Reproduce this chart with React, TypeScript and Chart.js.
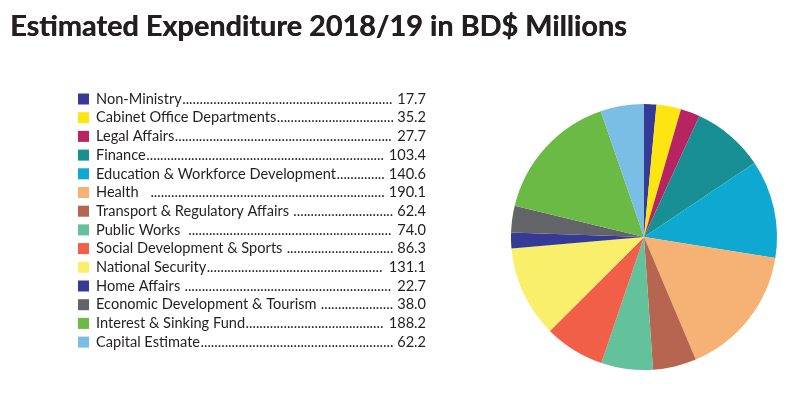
import React, { useEffect, useRef } from "react";
import { Chart, registerables } from "chart.js";

Chart.register(...registerables);

const TITLE = "Estimated Expenditure 2018/19 in BD$ Millions";
const categories = [
  "Non-Ministry",
  "Cabinet Office Departments",
  "Legal Affairs",
  "Finance",
  "Education & Workforce Development",
  "Health",
  "Transport & Regulatory Affairs",
  "Public Works",
  "Social Development & Sports",
  "National Security",
  "Home Affairs",
  "Economic Development & Tourism",
  "Interest & Sinking Fund",
  "Capital Estimate",
];
const values = [17.7, 35.2, 27.7, 103.4, 140.6, 190.1, 62.4, 74.0, 86.3, 131.1, 22.7, 38.0, 188.2, 62.2];
const valueLabels = ["17.7", "35.2", "27.7", "103.4", "140.6", "190.1", "62.4", "74.0", "86.3", "131.1", "22.7", "38.0", "188.2", "62.2"];
const colors = [
  "#353a96", "#fce511", "#b82462", "#189093", "#0fa8d0", "#f5b274", "#b66550",
  "#63c29c", "#f15f48", "#f9ef6b", "#343a96", "#636467", "#6aba45", "#7abde5",
];
// label separators before the dotted leader, as typed in the original
const leaderGaps = ["", "", "", "", "", "   ", " ", "  ", " ", "", " ", " ", "", ""];

const textPlugin = {
  id: "customText",
  afterDraw(chart: any) {
    const ctx = chart.ctx as CanvasRenderingContext2D;
    ctx.save();
    // Title
    ctx.fillStyle = "#231f20";
    ctx.textBaseline = "alphabetic";
    ctx.textAlign = "left";
    ctx.font = "bold 100px Lato";
    const w100 = ctx.measureText(TITLE).width;
    const size = (617 / w100) * 100;
    ctx.font = `bold ${size.toFixed(2)}px Lato`;
    ctx.fillText(TITLE, 10, 36);
    ctx.fillText(TITLE, 10.4, 36);

    // Legend
    const rowTop = 99;
    const rowH = 18.7;
    const textX = 96;
    const valRight = 426;
    ctx.font = "14.6px Lato";
    const dotW = ctx.measureText(".").width;
    categories.forEach((c, i) => {
      const cy = rowTop + i * rowH;
      ctx.fillStyle = colors[i];
      ctx.fillRect(78, cy - 5.5, 11, 11);
      ctx.fillStyle = "#231f20";
      ctx.textAlign = "left";
      ctx.textBaseline = "middle";
      const lbl = c + leaderGaps[i];
      ctx.fillText(c, textX, cy);
      const tw = ctx.measureText(lbl).width;
      const vw = ctx.measureText(valueLabels[i]).width;
      const start = textX + tw + 0.5;
      const end = valRight - vw - 3;
      const n = Math.max(0, Math.floor((end - start) / dotW));
      ctx.fillText(".".repeat(n), start, cy);
      ctx.textAlign = "right";
      ctx.fillText(valueLabels[i], valRight, cy);
    });
    ctx.restore();
  },
};

export default function App() {
  const ref = useRef<HTMLCanvasElement>(null);
  useEffect(() => {
    document.body.style.margin = "0";
    const chart = new Chart(ref.current!, {
      type: "pie",
      data: {
        labels: categories,
        datasets: [
          {
            data: values,
            backgroundColor: colors,
            borderWidth: 0,
          },
        ],
      },
      options: {
        responsive: false,
        animation: false,
        layout: { padding: { left: 511, right: 23, top: 104, bottom: 29 } },
        plugins: {
          legend: { display: false },
          tooltip: { enabled: false },
          title: { display: false },
        },
      },
      plugins: [textPlugin],
    });
    return () => chart.destroy();
  }, []);
  return (
    <div style={{ width: 800, height: 399, background: "#fff" }}>
      <canvas ref={ref} width={800} height={399} />
    </div>
  );
}
